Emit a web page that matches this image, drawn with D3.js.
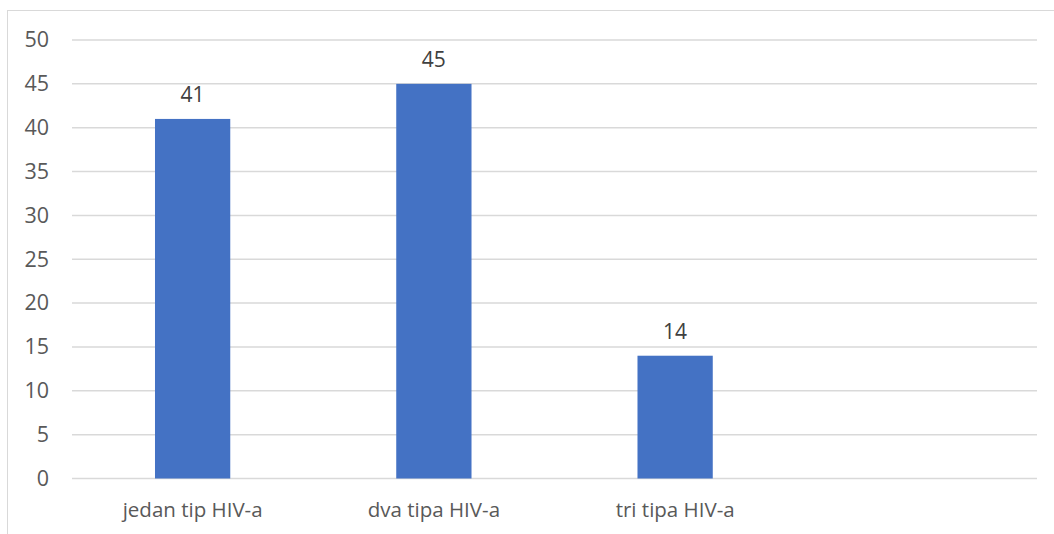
<!DOCTYPE html>
<html>
<head>
<meta charset="utf-8">
<script src="https://cdn.jsdelivr.net/npm/d3@7"></script>
<style>
  html, body { margin: 0; padding: 0; background: #fff; }
  svg { display: block; }
  text { font-family: "Open Sans", "Noto Sans", sans-serif; }
</style>
</head>
<body>
<svg id="chart" width="1054" height="534"></svg>
<script>
const categories = ["jedan tip HIV-a", "dva tipa HIV-a", "tri tipa HIV-a", ""];
const values = [41, 45, 14, null];
const yTicks = [0, 5, 10, 15, 20, 25, 30, 35, 40, 45, 50];

const svg = d3.select("#chart");
const plot = { left: 72, right: 1037, top: 40, bottom: 478.5 };

// outer chart border (extends past the visible area on right/bottom)
svg.append("rect")
  .attr("x", 7.5).attr("y", 10.5)
  .attr("width", 1200).attr("height", 700)
  .attr("fill", "none").attr("stroke", "#d9d9d9").attr("stroke-width", 1);

const x = d3.scaleBand()
  .domain(categories.map((c, i) => i))
  .range([plot.left, plot.right])
  .paddingInner(0.688).paddingOuter(0.344);

const y = d3.scaleLinear().domain([0, 50]).range([plot.bottom, plot.top]);

// gridlines
svg.append("g").selectAll("line").data(yTicks).join("line")
  .attr("x1", plot.left).attr("x2", plot.right)
  .attr("y1", d => y(d)).attr("y2", d => y(d))
  .attr("stroke", "#d9d9d9").attr("stroke-width", 1.5);

// y axis labels
const yAxis = d3.axisLeft(y).tickValues(yTicks).tickSize(0).tickPadding(0);
const ya = svg.append("g").attr("transform", `translate(${plot.left - 23},0)`).call(yAxis);
ya.select(".domain").remove();
ya.selectAll("text")
  .attr("fill", "#595959")
  .style("font-size", "21.5px")
  .style("font-family", "'Open Sans', sans-serif");

// bars
const data = categories.map((c, i) => ({ c, i, v: values[i] })).filter(d => d.v != null);
svg.append("g").selectAll("rect").data(data).join("rect")
  .attr("x", d => x(d.i))
  .attr("width", x.bandwidth())
  .attr("y", d => y(d.v))
  .attr("height", d => y(0) - y(d.v))
  .attr("fill", "#4472c4");

// data labels
svg.append("g").selectAll("text").data(data).join("text")
  .attr("x", d => x(d.i) + x.bandwidth() / 2)
  .attr("y", d => y(d.v) - 17)
  .attr("text-anchor", "middle")
  .attr("fill", "#404040")
  .style("font-size", "21px")
  .text(d => d.v);

// x axis labels
const xAxis = d3.axisBottom(x).tickFormat(i => categories[i]).tickSize(0).tickPadding(0);
const xa = svg.append("g").attr("transform", `translate(0,${plot.bottom})`).call(xAxis);
xa.select(".domain").remove();
xa.selectAll("text")
  .attr("dy", null)
  .attr("y", 38.5)
  .attr("fill", "#595959")
  .style("font-size", "20.5px")
  .style("font-family", "'Open Sans', sans-serif");
</script>
</body>
</html>
